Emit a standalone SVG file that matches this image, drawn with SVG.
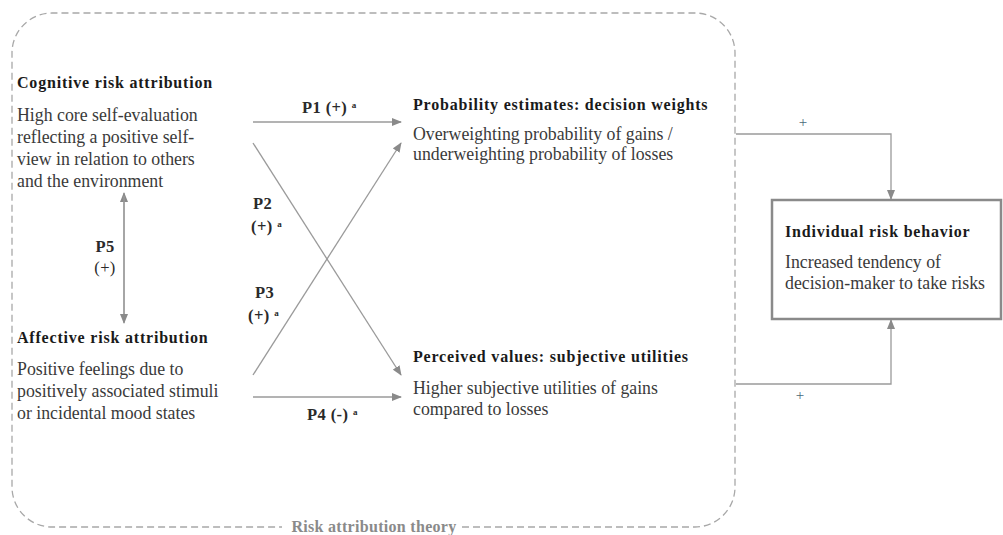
<svg xmlns="http://www.w3.org/2000/svg" width="1003" height="535" viewBox="0 0 1003 535" font-family="'Liberation Serif', 'DejaVu Serif', serif">
<style>
.t{font-family:'Liberation Serif', serif;font-size:16px;letter-spacing:0.8px;font-weight:bold;fill:#1a1a1a;}
.b{font-family:'Liberation Serif', serif;font-size:17.8px;fill:#3a3a3a;}
.lb{font-family:'Liberation Serif', serif;font-size:16.5px;letter-spacing:0.4px;font-weight:bold;fill:#2a2a2a;}
.sup{font-size:9px;}
.pl{font-family:'Liberation Serif', serif;font-size:15px;fill:#4a6a7a;}
.ln{stroke:#9a9a9a;stroke-width:1.3;fill:none;}
.bd{stroke:#a8a8a8;stroke-width:1.3;fill:none;stroke-dasharray:7 4;}
</style>
<defs>
<marker id="ah" markerWidth="10" markerHeight="8" refX="9" refY="4" orient="auto" markerUnits="userSpaceOnUse">
<path d="M0,0 L10,4 L0,8 Z" fill="#8a8a8a"/>
</marker>
</defs>
<g id="boundary">
<path class="bd" d="M462,527 L695,527 A40,40 0 0 0 735,487 L735,53 A40,40 0 0 0 695,13 L52,13 A40,40 0 0 0 12,53 L12,487 A40,40 0 0 0 52,527 L282,527"/>
<text class="lb" x="374" y="532" text-anchor="middle" style="font-size:16px;letter-spacing:0.3px;fill:#8a8a8a;">Risk attribution  theory</text>
</g>
<g id="connectors">
<line class="ln" x1="124" y1="320" x2="124" y2="193" marker-end="url(#ah)"/>
<line class="ln" x1="124" y1="196" x2="124" y2="323" marker-end="url(#ah)"/>
<line class="ln" x1="253" y1="122" x2="401" y2="122" marker-end="url(#ah)"/>
<line class="ln" x1="253" y1="143" x2="401" y2="375" marker-end="url(#ah)"/>
<line class="ln" x1="253" y1="375" x2="401" y2="143" marker-end="url(#ah)"/>
<line class="ln" x1="253" y1="397" x2="401" y2="397" marker-end="url(#ah)"/>
<polyline class="ln" points="736,134 891,134 891,199" marker-end="url(#ah)"/>
<polyline class="ln" points="736,384 891,384 891,320" marker-end="url(#ah)"/>
<text class="lb" x="105" y="252" text-anchor="middle">P5</text>
<text class="lb" x="105" y="273" text-anchor="middle" style="font-weight:normal">(+)</text>
<text class="lb" x="302" y="113">P1 (+) <tspan class="sup" dy="-5">a</tspan></text>
<text class="lb" x="253" y="209">P2</text>
<text class="lb" x="251" y="232">(+) <tspan class="sup" dy="-5">a</tspan></text>
<text class="lb" x="255" y="298">P3</text>
<text class="lb" x="248" y="321">(+) <tspan class="sup" dy="-5">a</tspan></text>
<text class="lb" x="307" y="420">P4 (-) <tspan class="sup" dy="-5">a</tspan></text>
<text class="pl" x="803" y="127" text-anchor="middle">+</text>
<text class="pl" x="800" y="400" text-anchor="middle">+</text>
</g>
<g id="cognitive">
<text class="t" x="17" y="88">Cognitive risk attribution</text>
<text class="b" x="17" y="121">High core self-evaluation</text>
<text class="b" x="17" y="143">reflecting a positive self-</text>
<text class="b" x="17" y="165">view in relation to others</text>
<text class="b" x="17" y="187">and the environment</text>
</g>
<g id="affective">
<text class="t" x="17" y="343">Affective risk attribution</text>
<text class="b" x="17" y="375">Positive feelings due to</text>
<text class="b" x="17" y="397">positively associated stimuli</text>
<text class="b" x="17" y="419">or incidental mood states</text>
</g>
<g id="probability">
<text class="t" x="413" y="110">Probability  estimates: decision  weights</text>
<text class="b" x="413" y="140">Overweighting probability of gains /</text>
<text class="b" x="413" y="160">underweighting  probability of losses</text>
</g>
<g id="perceived">
<text class="t" x="413" y="362">Perceived values: subjective utilities</text>
<text class="b" x="413" y="394">Higher subjective utilities of gains</text>
<text class="b" x="413" y="415">compared to losses</text>
</g>
<g id="behavior">
<rect x="772" y="200" width="229" height="119" fill="#fff" stroke="#8a8a8a" stroke-width="2.5"/>
<text class="t" x="785" y="237">Individual  risk behavior</text>
<text class="b" x="785" y="268">Increased tendency of</text>
<text class="b" x="785" y="289">decision-maker to take risks</text>
</g>
</svg>
